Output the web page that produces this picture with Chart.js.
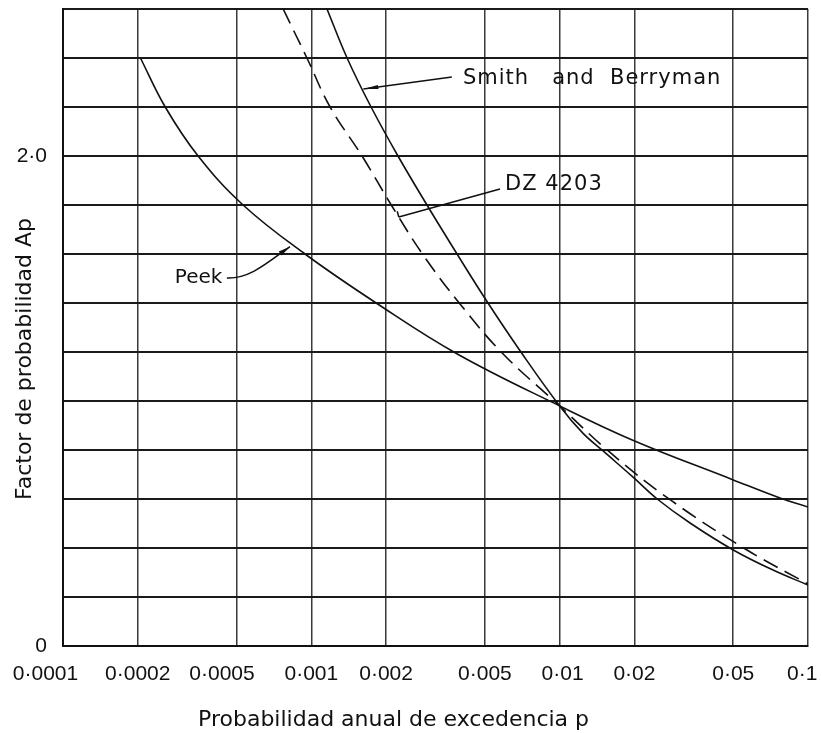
<!DOCTYPE html>
<html>
<head>
<meta charset="utf-8">
<script src="https://cdn.jsdelivr.net/npm/chart.js@4.4.1/dist/chart.umd.min.js"></script>
<style>
  html, body { margin: 0; padding: 0; background: #fff; }
  canvas { display: block; }
</style>
</head>
<body>
<canvas id="myChart" width="822" height="733"></canvas>
<script>
// axis ticks
var xTickValues = [0.0001, 0.0002, 0.0005, 0.001, 0.002, 0.005, 0.01, 0.02, 0.05, 0.1];
var xTickLabels = ["0·0001", "0·0002", "0·0005", "0·001", "0·002", "0·005", "0·01", "0·02", "0·05", "0·1"];
var yTickValues = [0, 0.2, 0.4, 0.6, 0.8, 1.0, 1.2, 1.4, 1.6, 1.8, 2.0, 2.2, 2.4, 2.6];
var yTickLabels = ["0", "", "", "", "", "", "", "", "", "", "2·0", "", "", ""];

// curves (p, Ap)
var peekP = [0.000205, 0.000258, 0.00035, 0.000531, 0.000943, 0.00185, 0.00387, 0.01, 0.0197, 0.05, 0.0771, 0.1];
var peekA = [2.4, 2.2, 2.0, 1.8, 1.6, 1.396, 1.192, 0.98, 0.84, 0.678, 0.604, 0.567];

var smithP = [0.001156, 0.001393, 0.00174, 0.002233, 0.002922, 0.003862, 0.005145, 0.006982, 0.01, 0.0124, 0.015, 0.0197, 0.0247, 0.0335, 0.05, 0.0723, 0.1];
var smithA = [2.6, 2.4, 2.2, 2.0, 1.8, 1.6, 1.4, 1.2, 0.98, 0.869, 0.795, 0.69, 0.6, 0.502, 0.392, 0.31, 0.249];

var dzP = [0.00077, 0.00096, 0.00119, 0.0016, 0.00211, 0.00282, 0.00397, 0.00592, 0.01, 0.0157, 0.0283, 0.0568, 0.1];
var dzA = [2.6, 2.4, 2.2, 2.0, 1.796, 1.596, 1.396, 1.192, 0.98, 0.796, 0.592, 0.392, 0.253];

// trailing (+) / leading (-) spaces to nudge a few x labels like the scan
var xLabelNudge = [6, 0, 5, 0, 0, 0, -1, 0, 0, 2];

var titleFont = { family: "'DejaVu Sans', sans-serif", size: 22 };
var tickFont = { family: "'Liberation Sans', Arial, sans-serif", size: 21 };

function toPoints(ps, as) {
  return ps.map(function (p, i) { return { x: p, y: as[i] }; });
}

function spaces(n) {
  return new Array(Math.abs(n) + 1).join(" ");
}

function arrowHead(c, fx, fy, tx, ty, len, half) {
  var dx = tx - fx, dy = ty - fy;
  var d = Math.sqrt(dx * dx + dy * dy);
  var ux = dx / d, uy = dy / d;
  var bx = tx - ux * len, by = ty - uy * len;
  c.beginPath();
  c.moveTo(tx, ty);
  c.lineTo(bx - uy * half, by + ux * half);
  c.lineTo(bx + uy * half, by - ux * half);
  c.closePath();
  c.fill();
}

var labelsPlugin = {
  id: "curveLabels",
  afterDatasetsDraw: function (chart) {
    var xs = chart.scales.x, ys = chart.scales.y, c = chart.ctx;
    function px(p) { return xs.getPixelForValue(p); }
    function py(a) { return ys.getPixelForValue(a); }

    c.save();
    c.strokeStyle = "#111";
    c.fillStyle = "#111";
    c.lineWidth = 1.5;
    c.textAlign = "left";
    c.textBaseline = "middle";

    // Smith and Berryman
    c.beginPath();
    c.moveTo(px(0.00368), py(2.322));
    c.lineTo(px(0.00162), py(2.273));
    c.stroke();
    arrowHead(c, px(0.00368), py(2.322), px(0.00162), py(2.273), 15, 2);
    c.font = "21px 'DejaVu Sans', sans-serif";
    c.letterSpacing = "1px";
    c.fillText("Smith   and  Berryman", px(0.00408), py(2.318));

    // DZ 4203
    var x1 = px(0.00575), y1 = py(1.865), x2 = px(0.00225), y2 = py(1.751);
    c.beginPath();
    c.moveTo(x1, y1);
    c.lineTo(x2, y2);
    var dx = x2 - x1, dy = y2 - y1, d = Math.sqrt(dx * dx + dy * dy);
    c.moveTo(x2, y2);
    c.lineTo(x2 - dy / d * 6, y2 + dx / d * 6);
    c.stroke();
    c.fillText("DZ 4203", px(0.00603), py(1.882));
    c.letterSpacing = "0px";

    // Peek
    c.beginPath();
    c.moveTo(px(0.000457), py(1.502));
    c.bezierCurveTo(px(0.000566), py(1.498), px(0.000669), py(1.567), px(0.00082), py(1.63));
    c.stroke();
    arrowHead(c, px(0.000669), py(1.567), px(0.00082), py(1.63), 12, 2.5);
    c.font = "20px 'DejaVu Sans', sans-serif";
    c.fillText("Peek", px(0.000282), py(1.502));

    c.restore();
  }
};

var ctx = document.getElementById("myChart").getContext("2d");

var myChart = new Chart(ctx, {
  type: "line",
  data: {
    datasets: [
      {
        label: "Peek",
        data: toPoints(peekP, peekA),
        borderColor: "#111",
        borderWidth: 1.6,
        pointRadius: 0,
        fill: false,
        tension: 0.4
      },
      {
        label: "Smith and Berryman",
        data: toPoints(smithP, smithA),
        borderColor: "#111",
        borderWidth: 1.6,
        pointRadius: 0,
        fill: false,
        tension: 0.4
      },
      {
        label: "DZ 4203",
        data: toPoints(dzP, dzA),
        borderColor: "#111",
        borderWidth: 1.6,
        borderDash: [16, 8],
        pointRadius: 0,
        fill: false,
        tension: 0.4
      }
    ]
  },
  options: {
    responsive: false,
    animation: false,
    layout: { padding: { top: 9, right: 14, bottom: 0, left: 0 } },
    plugins: {
      legend: { display: false },
      tooltip: { enabled: false }
    },
    scales: {
      x: {
        type: "logarithmic",
        min: 0.0001,
        max: 0.1,
        afterBuildTicks: function (scale) {
          scale.ticks = xTickValues.map(function (v) { return { value: v }; });
        },
        afterFit: function (scale) {
          scale.height = 87;
          scale.paddingLeft = 0;
          scale.paddingRight = 0;
        },
        ticks: {
          autoSkip: false,
          maxRotation: 0,
          padding: 16,
          color: "#111",
          font: tickFont,
          callback: function (value, index) {
            var n = xLabelNudge[index];
            var t = xTickLabels[index];
            return n >= 0 ? t + spaces(n) : spaces(n) + t;
          }
        },
        grid: { color: "#3a3a3a", lineWidth: 1.5, drawTicks: false },
        border: { color: "#111", width: 2 },
        title: {
          display: true,
          text: "Probabilidad anual de excedencia p" + spaces(12),
          color: "#111",
          font: titleFont,
          padding: { top: 0, bottom: 0 }
        }
      },
      y: {
        type: "linear",
        min: 0,
        max: 2.6,
        afterBuildTicks: function (scale) {
          scale.ticks = yTickValues.map(function (v) { return { value: v }; });
        },
        afterFit: function (scale) {
          scale.width = 63;
          scale.paddingTop = 0;
          scale.paddingBottom = 0;
        },
        ticks: {
          padding: 16,
          color: "#111",
          font: tickFont,
          callback: function (value, index) {
            return yTickLabels[index];
          }
        },
        grid: { color: "#1a1a1a", lineWidth: 2, drawTicks: false },
        border: { color: "#111", width: 2 },
        title: {
          display: true,
          text: "Factor de probabilidad Ap" + spaces(9),
          color: "#111",
          font: titleFont,
          padding: { top: 12, bottom: 0 }
        }
      }
    }
  },
  plugins: [labelsPlugin]
});
</script>
</body>
</html>
